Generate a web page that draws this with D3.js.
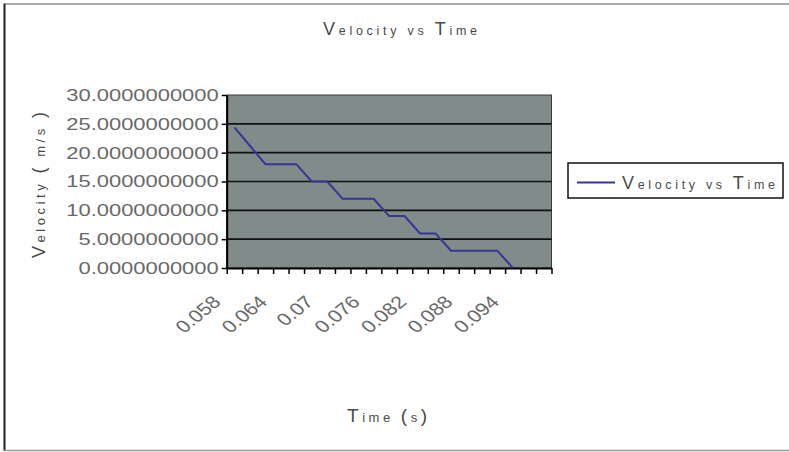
<!DOCTYPE html>
<html>
<head>
<meta charset="utf-8">
<script src="https://cdn.jsdelivr.net/npm/d3@7"></script>
<style>
  body { margin: 0; background: #fff; }
  svg { display: block; }
  text { white-space: pre; }
</style>
</head>
<body>
<svg id="chart" width="789" height="452"></svg>
<script>
// Time samples (s) used as category labels
const categories = [0.058, 0.06, 0.062, 0.064, 0.066, 0.068, 0.07, 0.072, 0.074, 0.076,
                    0.078, 0.08, 0.082, 0.084, 0.086, 0.088, 0.09, 0.092, 0.094, 0.096, 0.098];
// Velocity (m/s) at each time sample; the last two samples have no reading
const velocity = [24.4, 21.2, 18, 18, 18, 15, 15, 12, 12, 12,
                  9, 9, 6, 6, 3, 3, 3, 3, 0, null, null];
const yTicks = [0, 5, 10, 15, 20, 25, 30];
const labelEvery = 3;

const chartTitle = "Velocity vs Time";
const seriesName = "Velocity vs Time";
const xTitle = "Time (s)";
const yTitle = "Velocity ( m/s )";

const svg = d3.select("#chart");
const plot = { left: 226.7, right: 551.5, top: 95, bottom: 268 };

// outer frame
svg.append("rect").attr("width", 789).attr("height", 452).attr("fill", "#fff");
const frame = svg.append("g").attr("fill", "none");
frame.append("line").attr("x1", 4.5).attr("x2", 4.5).attr("y1", 3.5).attr("y2", 451)
  .attr("stroke", "#222").attr("stroke-width", 2);
frame.append("line").attr("x1", 4).attr("x2", 789).attr("y1", 4).attr("y2", 4)
  .attr("stroke", "#555").attr("stroke-width", 1);
frame.append("line").attr("x1", 4).attr("x2", 789).attr("y1", 450.5).attr("y2", 450.5)
  .attr("stroke", "#999").attr("stroke-width", 1.5);

// scales
const x = d3.scaleBand().domain(categories).range([plot.left, plot.right]).padding(0);
const xEdge = d3.scaleLinear().domain([0, categories.length]).range([plot.left, plot.right]);
const y = d3.scaleLinear().domain([0, 30]).range([plot.bottom, plot.top]);

// plot area
svg.append("rect")
  .attr("x", plot.left).attr("y", plot.top)
  .attr("width", plot.right - plot.left).attr("height", plot.bottom - plot.top)
  .attr("fill", "#808b8a").attr("stroke", "#3a3a3a").attr("stroke-width", 1);

// horizontal gridlines
svg.append("g").selectAll("line")
  .data(yTicks.filter(v => v > 0 && v < 30))
  .join("line")
  .attr("x1", plot.left).attr("x2", plot.right)
  .attr("y1", d => y(d)).attr("y2", d => y(d))
  .attr("stroke", "#111").attr("stroke-width", 1.6);

// mixed-size lettering: capitals and brackets large, lowercase small
function lettering(sel, str, bigSize, smallSize, length) {
  const runs = [];
  for (const ch of str) {
    const big = /[A-Z()]/.test(ch);
    if (runs.length && runs[runs.length - 1].big === big) runs[runs.length - 1].t += ch;
    else runs.push({ t: ch, big });
  }
  sel.selectAll("tspan").data(runs).join("tspan")
    .attr("font-size", d => d.big ? bigSize : smallSize)
    .text(d => d.t);
  sel.attr("textLength", length).attr("lengthAdjust", "spacing");
  return sel;
}

const titleFont = "'Liberation Sans', Arial, sans-serif";

// y axis
const yAxis = svg.append("g")
  .attr("transform", `translate(${plot.left},0)`)
  .call(d3.axisLeft(y).tickValues(yTicks).tickSize(5).tickSizeOuter(0).tickPadding(3)
    .tickFormat(d3.format(".10f")));
yAxis.select(".domain").attr("stroke", "#000").attr("stroke-width", 2);
yAxis.selectAll(".tick line").attr("stroke", "#000").attr("stroke-width", 1.5);
yAxis.selectAll(".tick text")
  .attr("font-family", titleFont).attr("font-size", 17).attr("fill", "#686868")
  .each(function () {
    const w = this.getComputedTextLength();
    d3.select(this).attr("textLength", w * 1.29).attr("lengthAdjust", "spacingAndGlyphs");
  });

// x axis: tick marks between categories
const xTickAxis = svg.append("g")
  .attr("transform", `translate(0,${plot.bottom})`)
  .call(d3.axisBottom(xEdge).tickValues(d3.range(categories.length + 1))
    .tickSize(6).tickSizeOuter(0).tickFormat(""));
xTickAxis.select(".domain").attr("stroke", "#000").attr("stroke-width", 2);
xTickAxis.selectAll(".tick line").attr("stroke", "#000").attr("stroke-width", 1.5);

// x axis: rotated category labels
const xLabelAxis = svg.append("g")
  .attr("transform", `translate(0,${plot.bottom})`)
  .call(d3.axisBottom(x).tickSize(0).tickSizeOuter(0)
    .tickFormat((d, i) => i % labelEvery === 0 ? String(d) : ""));
xLabelAxis.select(".domain").remove();
xLabelAxis.selectAll(".tick text")
  .attr("x", 0).attr("y", 0).attr("dy", 0)
  .attr("text-anchor", "end")
  .attr("transform", "translate(-12.5,35) scale(1.22,1) rotate(-45)")
  .attr("font-family", titleFont).attr("font-size", 17.5).attr("fill", "#686868");

// velocity line
const line = d3.line()
  .defined(d => d.v !== null)
  .x(d => x(d.t) + x.bandwidth() / 2)
  .y(d => y(d.v));
svg.append("path")
  .datum(categories.map((t, i) => ({ t, v: velocity[i] })))
  .attr("d", line)
  .attr("fill", "none")
  .attr("stroke", "#363696")
  .attr("stroke-width", 2);

// chart title
lettering(svg.append("text")
  .attr("x", 400).attr("y", 35).attr("text-anchor", "middle")
  .attr("font-family", titleFont).attr("fill", "#4a4a4a"), chartTitle, 18, 12.5, 154);

// axis titles
lettering(svg.append("text")
  .attr("x", 387).attr("y", 422).attr("text-anchor", "middle")
  .attr("font-family", titleFont).attr("fill", "#4a4a4a"), xTitle, 19, 13, 80);

lettering(svg.append("text")
  .attr("transform", "translate(45,185) rotate(-90)").attr("text-anchor", "middle")
  .attr("font-family", titleFont).attr("fill", "#4a4a4a"), yTitle, 18, 13, 146);

// legend
const legend = svg.append("g");
legend.append("rect")
  .attr("x", 568).attr("y", 163).attr("width", 215).attr("height", 35)
  .attr("fill", "#fff").attr("stroke", "#111").attr("stroke-width", 1.5);
legend.append("line")
  .attr("x1", 577).attr("x2", 615).attr("y1", 182.5).attr("y2", 182.5)
  .attr("stroke", "#363696").attr("stroke-width", 2);
lettering(legend.append("text")
  .attr("x", 622).attr("y", 189)
  .attr("font-family", titleFont).attr("fill", "#4a4a4a"), seriesName, 18, 12.5, 153);
</script>
</body>
</html>
